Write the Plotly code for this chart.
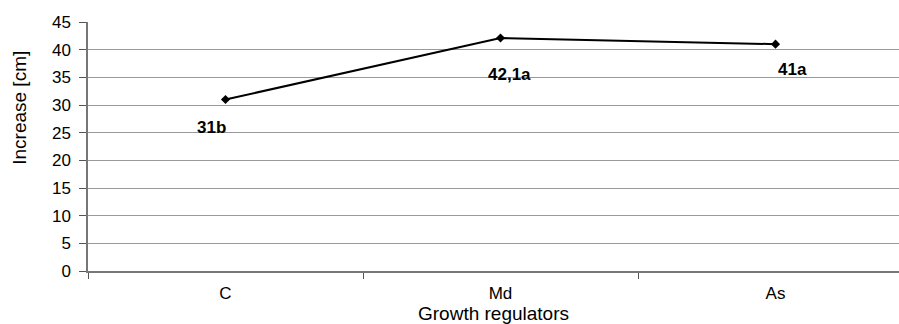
import plotly.graph_objects as go

categories = ["C", "Md", "As"]
values = [31, 42.1, 41]
labels = ["31b", "42,1a", "41a"]
y_ticks = [0, 5, 10, 15, 20, 25, 30, 35, 40, 45]

FONT = "Liberation Sans, Arial, sans-serif"

fig = go.Figure()
fig.add_trace(go.Scatter(
    x=categories, y=values, mode="lines+markers",
    line=dict(color="black", width=2),
    marker=dict(symbol="diamond", size=7, color="black"),
    showlegend=False, cliponaxis=False,
))

shifts = [(-14, -28), (9, -36), (17, -25)]
for c, v, t, (dx, dy) in zip(categories, values, labels, shifts):
    fig.add_annotation(x=c, y=v, text="<b>%s</b>" % t, showarrow=False,
                       xshift=dx, yshift=dy,
                       font=dict(family=FONT, size=17, color="black"))

# y-axis title (placed above centre as in the original)
fig.add_annotation(xref="paper", yref="paper", x=-0.084, y=0.655,
                   text="Increase [cm]", textangle=-90, showarrow=False,
                   xanchor="center", yanchor="middle",
                   font=dict(family=FONT, size=19, color="black"))

fig.update_layout(
    width=899, height=324,
    margin=dict(l=88, r=0, t=22, b=53),
    paper_bgcolor="white", plot_bgcolor="white",
    font=dict(family=FONT, size=17, color="black"),
)
fig.update_xaxes(
    type="category", range=[-0.5, 2.449],
    tickson="boundaries", ticks="outside", ticklen=6, tickcolor="#555",
    ticklabelstandoff=6,
    tickfont=dict(size=17),
    showline=True, linecolor="#777", linewidth=1.5,
    showgrid=False,
    title=dict(text="Growth regulators", font=dict(size=19), standoff=1),
)
fig.update_yaxes(
    range=[0, 45], tickvals=y_ticks, ticks="outside", ticklen=7, tickcolor="#555",
    ticklabelstandoff=5,
    showline=True, linecolor="#777", linewidth=1.5,
    showgrid=True, gridcolor="#999", gridwidth=1,
    zeroline=False,
)

fig.write_html("out.html", config={"displayModeBar": False},
               post_script="document.body.style.margin='0';")
